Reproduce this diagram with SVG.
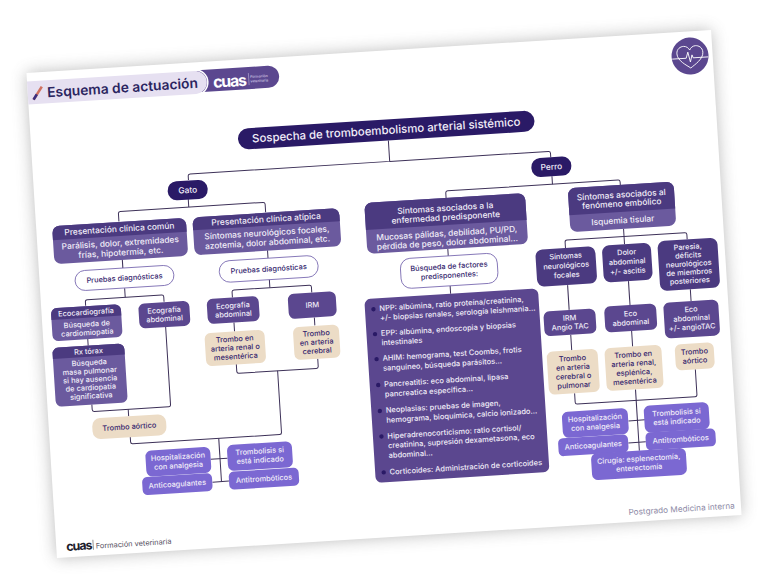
<svg xmlns="http://www.w3.org/2000/svg" width="768" height="576" viewBox="0 0 768 576">
<style>
text{font-family:"Inter","Noto Sans","Liberation Sans",sans-serif;font-weight:500;text-anchor:middle}
.w{fill:#f1edf8}.d{fill:#35266e}
.s{font-size:7.4px}.l{font-size:8.400px}
.hd{fill:#4b3a80}.bd{fill:#6b5a9e}.mid{fill:#5b478f}.nv{fill:#2a1a66}.lav{fill:#7b68d2}.tan{fill:#ecdcc6}
.pill{fill:#fff;stroke:#6b5aa8;stroke-width:.8}
.li{font-size:7.5px;text-anchor:start;fill:#f1edf8}
.c{fill:none;stroke:#3d3158;stroke-width:1}
</style>
<defs>
<filter id="sh" x="-10%" y="-10%" width="120%" height="120%"><feGaussianBlur stdDeviation="8"/></filter>
</defs>
<rect x="41" y="51" width="686" height="486" transform="rotate(-3.6 384 294)" fill="#555" opacity=".4" filter="url(#sh)"/>
<g transform="rotate(-3.6 384 294)">
<rect x="41" y="51" width="686" height="486" fill="#fff"/>
<g id="header">
<rect x="205" y="59" width="88" height="22" rx="11" fill="#5b478f"/>
<path d="M41 59.500H209a11.500 11.500 0 0 1 0 23H41Z" fill="#e6e0f1"/>
<path d="M209 58.500a12.500 12.500 0 0 1 0 25" fill="none" stroke="#fff" stroke-width="1.500"/>
<line x1="46.500" y1="78" x2="55.500" y2="65.500" stroke="#d0705f" stroke-width="2.600"/>
<line x1="46.500" y1="78" x2="50" y2="73" stroke="#3a2f80" stroke-width="2.600"/>
<text x="60.500" y="76.500" style="text-anchor:start;font-size:13.800px;font-weight:600;fill:#2b2560">Esquema de actuación</text>
<text x="243" y="77.500" style="font-size:16px;font-weight:700;fill:#fff;letter-spacing:-1.300px">cuas</text>
<line x1="262.500" y1="65" x2="262.500" y2="77" stroke="#cfc6e6" stroke-width=".5"/>
<text x="264" y="70" style="text-anchor:start;font-size:3.500px;fill:#d9d2ea">Formación</text>
<text x="264" y="74.500" style="text-anchor:start;font-size:3.500px;fill:#d9d2ea">veterinaria</text>
</g>
<g id="heart-icon">
<circle cx="704.400" cy="75.700" r="18.500" fill="#5b478f"/>
<g transform="translate(704.400 75.700)" fill="none" stroke="#fff" stroke-width=".9">
<path d="M0 12C-4 9-13 4-13-3C-13-8-9-10-6-10C-3-10-1-8 0-6C1-8 3-10 6-10C9-10 13-8 13-3C13 4 4 9 0 12Z"/>
<path d="M-18 2H-4L-2-4L0 6L2-1L3 2H18"/>
</g>
</g>
<g id="connectors" class="c">
<path d="M398 141V162H198Q196 162 196 164V168"/>
<path d="M398 162H557Q559 162 559 164V168"/>
<path d="M194.600 187V195"/>
<path d="M124 205V197Q124 195 126 195H269Q271 195 271 197V205"/>
<path d="M125 243V252"/>
<path d="M270.500 243V251"/>
<path d="M125.500 272V281"/>
<path d="M85.500 287V283Q85.500 281 87.500 281H162Q164 281 164 283V288"/>
<path d="M85.500 320V327"/>
<path d="M164 313V391Q164 393 162 393H87.500Q85.500 393 85.500 391V386"/>
<path d="M121.500 393V400"/>
<path d="M270.500 272V280.500"/>
<path d="M232.500 288V282.500Q232.500 280.500 234.500 280.500H310Q312 280.500 312 282.500V288"/>
<path d="M232.500 313V322"/>
<path d="M313 313V321"/>
<path d="M232.200 354.500V362Q232.200 364 234.200 364H311.800Q313.800 364 313.800 362V354.500"/>
<path d="M273 364V425.700Q273 427.700 271 427.700H123.800Q121.800 427.700 121.800 425.700V420.500"/>
<path d="M210 427.700V471"/>
<path d="M200.500 448H217.500M201 471H217.500"/>
<path d="M452 202V197Q452 195 454 195H624.700Q626.700 195 626.700 197V200"/>
<path d="M559 187V195"/>
<path d="M450.500 253V260"/>
<path d="M450.500 290V298"/>
<path d="M627.200 244V259.500"/>
<path d="M568 259.500V253.700Q568 251.700 570 251.700H688Q690 251.700 690 253.700V258.500"/>
<path d="M567.800 296.700V321.500"/>
<path d="M628.800 296.500V320.500"/>
<path d="M690 308.500V320.300"/>
<path d="M567.800 346.500V362"/>
<path d="M628.800 346.500V362"/>
<path d="M568 405V414Q568 416 570 416H688Q690 416 690 414V388.700"/>
<path d="M629 405V466.500"/>
<path d="M620 436H636.500M618.500 458H636"/>
</g>
<g id="root"><rect x="248" y="120" width="297" height="21" rx="10.500" class="nv"/><text x="396.500" y="134.500" class="w" style="font-size:11.400px">Sospecha de tromboembolismo arterial sistémico</text></g>
<g id="gato"><rect x="174.600" y="168.500" width="40" height="19" rx="9" class="nv"/><text x="194.600" y="180.900" class="w l">Gato</text></g>
<g id="perro"><rect x="539" y="168" width="40" height="19" rx="9" class="nv"/><text x="559" y="180.400" class="w l">Perro</text></g>

<g id="clinica-comun"><rect x="57" y="205.500" width="134" height="38" rx="7" class="bd"/><path d="M57 219.500V212.500a7 7 0 0 1 7-7H184a7 7 0 0 1 7 7V219.500Z" class="hd"/>
<text x="124" y="215.300" class="w l">Presentación clínica común</text><text x="124" y="229.300" class="w l">Parálisis, dolor, extremidades</text><text x="124" y="239" class="w l">frías, hipotermía, etc.</text></g>
<g id="clinica-atipica"><rect x="197.500" y="205.500" width="147" height="38" rx="7" class="bd"/><path d="M197.500 218.500V212.500a7 7 0 0 1 7-7H337.500a7 7 0 0 1 7 7V218.500Z" class="hd"/>
<text x="271" y="214.900" class="w l">Presentación clínica atípica</text><text x="271" y="228.400" class="w l">Síntomas neurológicos focales,</text><text x="271" y="238" class="w l">azotemia, dolor abdominal, etc.</text></g>
<g id="pruebas-1"><rect x="76.500" y="251.700" width="99" height="20" rx="10" class="pill"/><text x="126" y="264.300" class="d s">Pruebas diagnósticas</text></g>
<g id="pruebas-2"><rect x="221" y="251" width="99" height="21.500" rx="10.500" class="pill"/><text x="270.500" y="264.300" class="d s">Pruebas diagnósticas</text></g>

<g id="ecocardiografia"><rect x="50.500" y="287.500" width="70" height="33" rx="6" class="bd"/><path d="M50.500 299V293.500a6 6 0 0 1 6-6H114.500a6 6 0 0 1 6 6V299Z" class="hd"/>
<text x="85.500" y="296" class="w s">Ecocardiografía</text><text x="85.500" y="308" class="w s">Búsqueda de</text><text x="85.500" y="316.500" class="w s">cardiomiopatía</text></g>
<g id="rx-torax"><rect x="49.500" y="327" width="72" height="59" rx="6" class="bd"/><path d="M49.500 338V333a6 6 0 0 1 6-6H115.500a6 6 0 0 1 6 6V338Z" class="hd"/>
<text x="85.500" y="335.200" class="w s">Rx tórax</text><text x="85.500" y="346.500" class="w s">Búsqueda</text><text x="85.500" y="355" class="w s">masa pulmonar</text><text x="85.500" y="363.300" class="w s">si hay ausencia</text><text x="85.500" y="371.600" class="w s">de cardiopatía</text><text x="85.500" y="380" class="w s">significativa</text></g>
<g id="eco-abd-1"><rect x="138" y="288.300" width="51" height="25" rx="6" class="mid"/><text x="163.500" y="298.900" class="w s">Ecografía</text><text x="163.500" y="307.500" class="w s">abdominal</text></g>
<g id="eco-abd-2"><rect x="206.500" y="288" width="52" height="25" rx="6" class="mid"/><text x="232.500" y="298.600" class="w s">Ecografía</text><text x="232.500" y="307.200" class="w s">abdominal</text></g>
<g id="irm-1"><rect x="287.700" y="288" width="48" height="25" rx="6" class="mid"/><text x="311.700" y="303" class="w s">IRM</text></g>
<g id="trombo-renal-1"><rect x="202.200" y="322" width="60" height="33" rx="6" class="tan"/><text x="232.200" y="332" class="d s">Trombo en</text><text x="232.200" y="340.800" class="d s">arteria renal o</text><text x="232.200" y="349.600" class="d s">mesentérica</text></g>
<g id="trombo-cerebral-1"><rect x="290.800" y="321.500" width="46" height="33" rx="6" class="tan"/><text x="313.800" y="331.500" class="d s">Trombo</text><text x="313.800" y="340.300" class="d s">en arteria</text><text x="313.800" y="349.100" class="d s">cerebral</text></g>
<g id="trombo-aortico-1"><rect x="84.500" y="400" width="74" height="21" rx="8" class="tan"/><text x="121.500" y="413" class="d s">Trombo aórtico</text></g>

<g id="hospitalizacion-1"><rect x="135.700" y="435.500" width="65" height="26" rx="6" class="lav"/><text x="168.200" y="446" class="w s">Hospitalización</text><text x="168.200" y="455" class="w s">con analgesia</text></g>
<g id="trombolisis-1"><rect x="217.500" y="435" width="65" height="26" rx="6" class="lav"/><text x="250" y="445.500" class="w s">Trombolisis si</text><text x="250" y="454.500" class="w s">está indicado</text></g>
<g id="anticoagulantes-1"><rect x="130.800" y="461.700" width="70" height="18" rx="5" class="lav"/><text x="165.800" y="473.300" class="w s">Anticoagulantes</text></g>
<g id="antitromboticos-1"><rect x="217.600" y="461.800" width="70" height="18" rx="5" class="lav"/><text x="252.600" y="473.400" class="w s">Antitrombóticos</text></g>

<g id="sintomas-enfermedad"><rect x="370" y="202" width="161" height="51" rx="7" class="bd"/><path d="M370 229V209a7 7 0 0 1 7-7H524a7 7 0 0 1 7 7V229Z" class="hd"/>
<text x="450.500" y="215" class="w l">Síntomas asociados a la</text><text x="450.500" y="224.300" class="w l">enfermedad predisponente</text><text x="450.500" y="240.200" class="w l">Mucosas pálidas, debilidad, PU/PD,</text><text x="450.500" y="249.500" class="w l">pérdida de peso, dolor abdominal…</text></g>
<g id="busqueda-factores"><rect x="402" y="260" width="97" height="30" rx="10" class="pill"/><text x="450.500" y="273" class="d s">Búsqueda de factores</text><text x="450.500" y="282" class="d s">predisponentes:</text></g>
<g id="factores-lista"><rect x="364" y="298" width="174" height="184" rx="6" class="mid"/>
<g fill="#2a1a66"><circle cx="372.500" cy="308.500" r="2.200"/><circle cx="372.500" cy="333.500" r="2.200"/><circle cx="372.500" cy="358.500" r="2.200"/><circle cx="372.500" cy="384.500" r="2.200"/><circle cx="372.500" cy="410.500" r="2.200"/><circle cx="372.500" cy="436" r="2.200"/><circle cx="372.500" cy="472" r="2.200"/></g>
<text x="378.500" y="310.600" class="li">NPP: albúmina, ratio proteína/creatinina,</text>
<text x="378.500" y="320.100" class="li">+/- biopsias renales, serología leishmania…</text>
<text x="378.500" y="335.600" class="li">EPP: albúmina, endoscopia y biopsias</text>
<text x="378.500" y="345.100" class="li">intestinales</text>
<text x="378.500" y="360.600" class="li">AHIM: hemograma, test Coombs, frotis</text>
<text x="378.500" y="370.600" class="li">sanguíneo, búsqueda parásitos…</text>
<text x="378.500" y="386.600" class="li">Pancreatitis: eco abdominal, lipasa</text>
<text x="378.500" y="396.600" class="li">pancreatica específica…</text>
<text x="378.500" y="412.600" class="li">Neoplasias: pruebas de imagen,</text>
<text x="378.500" y="422.600" class="li">hemograma, bioquímica, calcio ionizado…</text>
<text x="378.500" y="438.600" class="li">Hiperadrenocorticismo: ratio cortisol/</text>
<text x="378.500" y="448.100" class="li">creatinina, supresión dexametasona, eco</text>
<text x="378.500" y="458.100" class="li">abdominal…</text>
<text x="378.500" y="474.600" class="li">Corticoides: Administración de corticoides</text></g>

<g id="sintomas-embolico"><rect x="574" y="200" width="106" height="44" rx="7" class="bd"/><path d="M574 227V207a7 7 0 0 1 7-7H673a7 7 0 0 1 7 7V227Z" class="hd"/>
<text x="627" y="212.700" class="w l">Síntomas asociados al</text><text x="627" y="221.500" class="w l">fenómeno embólico</text><text x="627" y="238.300" class="w l">Isquemia tisular</text></g>
<g id="neuro-focales"><rect x="537.600" y="259.500" width="60" height="37" rx="7" class="hd"/><text x="567.600" y="270" class="w s">Síntomas</text><text x="567.600" y="279.500" class="w s">neurológicos</text><text x="567.600" y="289" class="w s">focales</text></g>
<g id="dolor-abdominal"><rect x="604.300" y="259.500" width="49" height="37" rx="7" class="hd"/><text x="628.800" y="270" class="w s">Dolor</text><text x="628.800" y="279.500" class="w s">abdominal</text><text x="628.800" y="289" class="w s">+/- ascitis</text></g>
<g id="paresia"><rect x="660" y="258.500" width="60" height="50" rx="7" class="hd"/><text x="690" y="268.500" class="w s">Paresia,</text><text x="690" y="277" class="w s">déficits</text><text x="690" y="285.500" class="w s">neurológicos</text><text x="690" y="294" class="w s">de miembros</text><text x="690" y="302.500" class="w s">posteriores</text></g>
<g id="irm-angio"><rect x="541.800" y="321.500" width="52" height="25" rx="6" class="mid"/><text x="567.800" y="332" class="w s">IRM</text><text x="567.800" y="341" class="w s">Angio TAC</text></g>
<g id="eco-abd-3"><rect x="602.700" y="320.500" width="52" height="26" rx="6" class="mid"/><text x="628.700" y="331.500" class="w s">Eco</text><text x="628.700" y="340.500" class="w s">abdominal</text></g>
<g id="eco-angiotac"><rect x="662" y="320.300" width="55" height="36" rx="6" class="mid"/><text x="689.500" y="331" class="w s">Eco</text><text x="689.500" y="340" class="w s">abdominal</text><text x="689.500" y="349" class="w s">+/- angioTAC</text></g>
<g id="trombo-cerebral-2"><rect x="542.500" y="362" width="51" height="43" rx="6" class="tan"/><text x="568" y="372.500" class="d s">Trombo</text><text x="568" y="381.500" class="d s">en arteria</text><text x="568" y="390.500" class="d s">cerebral o</text><text x="568" y="399.500" class="d s">pulmonar</text></g>
<g id="trombo-renal-2"><rect x="600.400" y="362" width="57" height="43" rx="6" class="tan"/><text x="628.900" y="372.500" class="d s">Trombo en</text><text x="628.900" y="381.500" class="d s">arteria renal,</text><text x="628.900" y="390.500" class="d s">esplénica,</text><text x="628.900" y="399.500" class="d s">mesentérica</text></g>
<g id="trombo-aortico-2"><rect x="670.700" y="362.700" width="39" height="26" rx="6" class="tan"/><text x="690.200" y="373.500" class="d s">Trombo</text><text x="690.200" y="382.500" class="d s">aórtico</text></g>

<g id="hospitalizacion-2"><rect x="553.800" y="423" width="66" height="26" rx="6" class="lav"/><text x="586.800" y="433.500" class="w s">Hospitalización</text><text x="586.800" y="442.500" class="w s">con analgesia</text></g>
<g id="trombolisis-2"><rect x="635.900" y="422" width="65" height="27" rx="6" class="lav"/><text x="668.400" y="433" class="w s">Trombolisis si</text><text x="668.400" y="442" class="w s">está indicado</text></g>
<g id="anticoagulantes-2"><rect x="548.400" y="449.100" width="70" height="18" rx="5" class="lav"/><text x="583.400" y="460.700" class="w s">Anticoagulantes</text></g>
<g id="antitromboticos-2"><rect x="636" y="448.600" width="70" height="18" rx="5" class="lav"/><text x="671" y="460.200" class="w s">Antitrombóticos</text></g>
<g id="cirugia"><rect x="580.300" y="466.200" width="95" height="27" rx="6" class="lav"/><text x="627.800" y="477" class="w s">Cirugía: esplenectomía,</text><text x="627.800" y="486" class="w s">enterectomía</text></g>

<g id="footer">
<text x="51" y="530.500" style="text-anchor:start;font-size:12.500px;font-weight:700;letter-spacing:-1px;fill:#1d1d2c">cuas</text>
<line x1="78" y1="521" x2="78" y2="531" stroke="#555" stroke-width=".6"/>
<text x="80.500" y="530" style="text-anchor:start;font-size:7.400px;font-weight:400;fill:#55505f">Formación veterinaria</text>
<text x="667.500" y="530" style="font-size:8.200px;font-weight:400;fill:#8d8aa6">Postgrado Medicina interna</text>
</g>
</g>
</svg>
